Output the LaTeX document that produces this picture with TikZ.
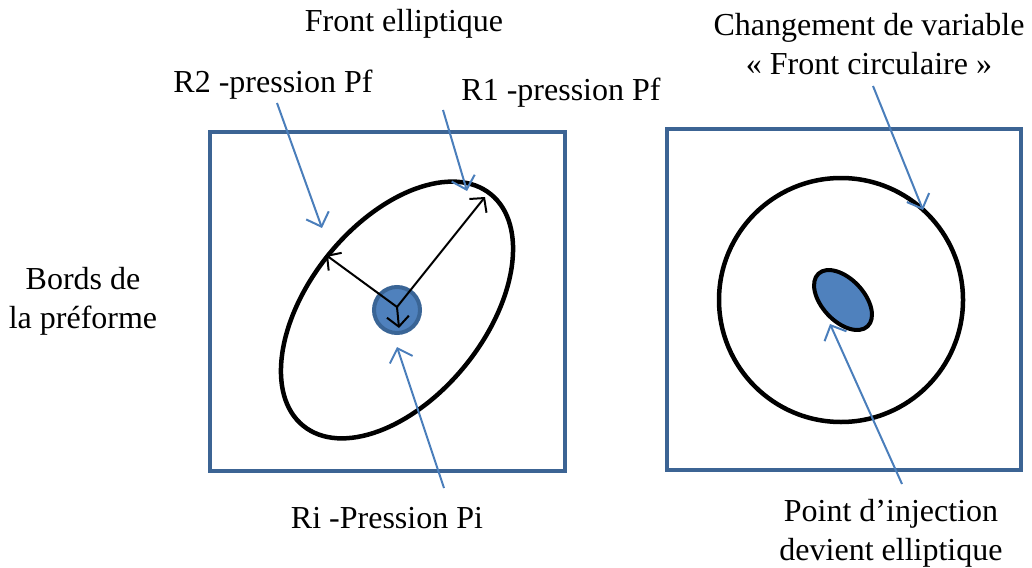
\documentclass[tikz,border=0pt]{standalone}
\usepackage{fontspec}
\setmainfont{Liberation Serif}
\usetikzlibrary{arrows.meta}
\definecolor{boxblue}{HTML}{3C6494}
\definecolor{fillblue}{HTML}{4F81BD}
\definecolor{edgeblue}{HTML}{3A6596}
\definecolor{lineblue}{HTML}{4A7EBB}
\tikzset{
  frame/.style={draw=boxblue, line width=4pt},
  front/.style={draw=black, line width=4.5pt},
  lbl/.style={inner sep=0pt, font=\fontsize{32}{39}\selectfont, align=center},
  callout/.style={draw=lineblue, line width=2pt, -{Straight Barb[length=12pt,width=24pt,line width=2pt]}},
  radius arrow/.style={draw=black, line width=2pt, -{Straight Barb[length=10pt,width=22pt,line width=2pt]}},
}
\begin{document}
\begin{tikzpicture}[x=1pt,y=-1pt]
\useasboundingbox (0,0) rectangle (1032,567);
% frames
\draw[frame] (210,132) rectangle (565,471);
\draw[frame] (667,129) rectangle (1021,470);
% left ellipse and injection point
\coordinate (c1) at (397,310);
\draw[front, rotate around={51:(c1)}] (c1) ellipse (149 and 88);
\node[circle, minimum size=46pt, inner sep=0pt, fill=fillblue, draw=edgeblue, line width=4pt] (inj) at (397,310) {};
\coordinate (o) at (397,307);
\coordinate (r1tip) at (485,197);
\coordinate (r2tip) at (326,255);
\coordinate (ritip) at (399,328);
\draw[radius arrow] (o) -- (r1tip);
\draw[radius arrow] (o) -- (r2tip);
\draw[radius arrow] (o) -- (ritip);
% right circle and elliptic injection point
\coordinate (c2) at (841,300);
\draw[front] (c2) circle (122);
\coordinate (c3) at (843,300);
\draw[front, fill=fillblue, line width=4pt, rotate around={-47:(c3)}] (c3) ellipse (36 and 21);
% labels
\node[lbl] (fe) at (404,24) {Front elliptique};
\node[lbl] (r2) at (273,85) {R2 -pression Pf};
\node[lbl] (r1) at (561,93) {R1 -pression Pf};
\node[lbl] (bords) at (83,301) {Bords de\\la préforme};
\node[lbl] (ri) at (387,518) {Ri -Pression Pi};
\node[lbl] (chg) at (869,44) {Changement de variable\\« Front circulaire »};
\node[lbl] (pt) at (891,533) {Point d’injection\\devient elliptique};
% callout arrows
\coordinate (a1s) at (277,103);
\coordinate (a1e) at (322,228);
\coordinate (a2s) at (443,110);
\coordinate (a2e) at (467,191);
\coordinate (a3s) at (444,488);
\coordinate (a3e) at (397,347);
\coordinate (a4s) at (873,86);
\coordinate (a4e) at (923,210);
\coordinate (a5s) at (902,484);
\coordinate (a5e) at (830,324);
\draw[callout] (a1s) -- (a1e);
\draw[callout] (a2s) -- (a2e);
\draw[callout] (a3s) -- (a3e);
\draw[callout] (a4s) -- (a4e);
\draw[callout] (a5s) -- (a5e);
\end{tikzpicture}
\end{document}
